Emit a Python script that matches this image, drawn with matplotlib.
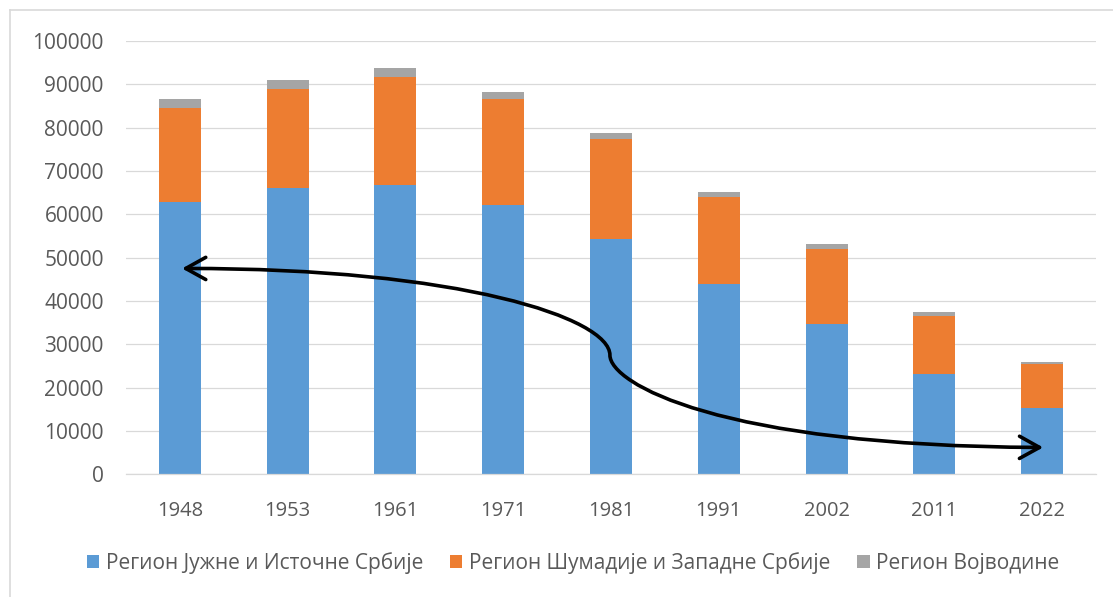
import matplotlib.pyplot as plt
from matplotlib.patches import FancyArrowPatch
from matplotlib.path import Path
from matplotlib.lines import Line2D
import numpy as np

years = ["1948", "1953", "1961", "1971", "1981", "1991", "2002", "2011", "2022"]
south_east = [62800, 66100, 66700, 62100, 54200, 44000, 34800, 23200, 15400]
sumadija_west = [21800, 22800, 24900, 24400, 23100, 20000, 17200, 13400, 10000]
vojvodina = [1900, 2100, 2100, 1700, 1500, 1100, 1100, 900, 600]
labels = ["Регион Јужне и Источне Србије", "Регион Шумадије и Западне Србије", "Регион Војводине"]
colors = ["#5B9BD5", "#ED7D31", "#A5A5A5"]

plt.rcParams["font.family"] = ["Open Sans", "DejaVu Sans"]

fig = plt.figure(figsize=(11.13, 5.97), dpi=100)
ax = fig.add_axes([126 / 1113, 122.7 / 597, 970 / 1113, 433.3 / 597])

x = np.arange(len(years))
w = 0.39
ax.bar(x, south_east, w, color=colors[0], label=labels[0], zorder=2)
b2 = np.array(south_east)
ax.bar(x, sumadija_west, w, bottom=b2, color=colors[1], label=labels[1], zorder=2)
b3 = b2 + np.array(sumadija_west)
ax.bar(x, vojvodina, w, bottom=b3, color=colors[2], label=labels[2], zorder=2)

ax.set_xlim(-0.5, len(years) - 0.5)
ax.set_ylim(0, 100000)
ax.set_yticks(np.arange(0, 100001, 10000))
ax.set_xticks(x)
ax.set_xticklabels(years)
ax.grid(axis="y", color="#D9D9D9", linewidth=0.9, zorder=0)
for s in ["top", "right", "left"]:
    ax.spines[s].set_visible(False)
ax.spines["bottom"].set_color("#D9D9D9")
ax.spines["bottom"].set_linewidth(0.9)
ax.tick_params(axis="both", length=0, colors="#595959")
ax.tick_params(axis="x", pad=19, labelsize=14.5)
ax.tick_params(axis="y", pad=16, labelsize=15)

# S-shaped double-headed arrow (drawn by hand on the original)
verts = [(0.02, 47500), (2.6, 47600), (3.99, 36000), (3.99, 27500),
         (3.99, 21000), (5.0, 6500), (8.01, 6200)]
codes = [Path.MOVETO] + [Path.CURVE4] * 6
arrow = FancyArrowPatch(path=Path(verts, codes),
                        arrowstyle="<->,head_length=0.72,head_width=0.4",
                        mutation_scale=20, linewidth=2.6, color="black",
                        zorder=5, transform=ax.transData)
ax.add_patch(arrow)

fig.legend(loc="center", bbox_to_anchor=(573 / 1113, 1 - 563 / 597), ncol=3,
           frameon=False, fontsize=15, handlelength=0.6, handleheight=0.6,
           handletextpad=0.3, columnspacing=1.3, labelcolor="#595959")

fig.add_artist(Line2D([10 / 1113, 10 / 1113], [0, 1 - 10 / 597], color="#D9D9D9", linewidth=1.2))
fig.add_artist(Line2D([10 / 1113, 1], [1 - 10 / 597, 1 - 10 / 597], color="#D9D9D9", linewidth=1.2))

fig.savefig("out.png", dpi=100)
